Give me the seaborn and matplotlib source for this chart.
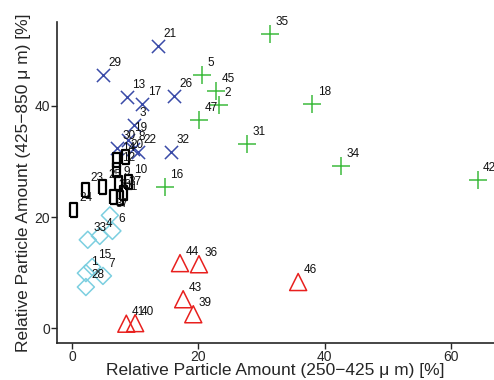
import matplotlib
matplotlib.use("Agg")
import matplotlib.pyplot as plt
import pandas as pd
import seaborn as sns

# point ids, x (250-425 um), y (425-850 um)
blue_ids = [21, 29, 13, 17, 26, 3, 19, 30, 22, 32, 8]
blue_x = [13.6, 4.9, 8.7, 11.1, 16.1, 9.8, 8.9, 7.2, 10.4, 15.7, 9.7]
blue_y = [50.8, 45.6, 41.6, 40.4, 41.8, 36.6, 33.9, 32.5, 31.7, 31.7, 32.3]

green_ids = [35, 5, 45, 2, 47, 18, 31, 34, 42, 16]
green_x = [31.3, 20.6, 22.8, 23.3, 20.1, 38.0, 27.7, 42.6, 64.2, 14.7]
green_y = [53.0, 45.6, 42.7, 40.2, 37.5, 40.4, 33.2, 29.2, 26.7, 25.4]

black_ids = [24, 23, 25, 14, 12, 20, 10, 27, 9, 11, 38]
black_x = [0.3, 2.1, 4.9, 7.0, 7.0, 8.4, 8.9, 8.1, 7.3, 7.6, 6.5]
black_y = [21.3, 24.9, 25.4, 30.3, 28.5, 30.8, 26.3, 24.3, 26.1, 23.4, 23.6]

cyan_ids = [37, 6, 33, 4, 15, 1, 7, 28]
cyan_x = [6.0, 6.4, 2.5, 4.4, 3.2, 2.2, 4.9, 2.2]
cyan_y = [20.3, 17.5, 15.9, 16.6, 11.0, 9.9, 9.4, 7.4]

red_ids = [44, 36, 46, 43, 39, 41, 40]
red_x = [17.1, 20.1, 35.8, 17.6, 19.2, 8.6, 10.0]
red_y = [11.7, 11.5, 8.3, 5.2, 2.5, 0.8, 0.9]

groups = [
    ("blue", blue_ids, blue_x, blue_y),
    ("green", green_ids, green_x, green_y),
    ("black", black_ids, black_x, black_y),
    ("cyan", cyan_ids, cyan_x, cyan_y),
    ("red", red_ids, red_x, red_y),
]

rect = [(-0.5, -1), (0.5, -1), (0.5, 1), (-0.5, 1), (-0.5, -1)]
styles = {
    "blue": dict(marker="x", s=90, color="#3A4BA8", lw=1.1),
    "green": dict(marker="+", s=170, color="#3DBB3D", lw=1.1),
    "black": dict(marker=rect, s=100, color="black", lw=1.6),
    "cyan": dict(marker="D", s=75, color="#7CCFE0", lw=1.1),
    "red": dict(marker="^", s=150, color="#E8201E", lw=1.1),
}

sns.set_style("ticks")
plt.rcParams["font.family"] = ["Liberation Sans", "DejaVu Sans"]

fig = plt.figure(figsize=(4.94, 3.80), dpi=100)
ax = fig.add_axes([0.115, 0.097, 0.885, 0.845])

for name, ids, xs, ys in groups:
    st = styles[name]
    df = pd.DataFrame({"x": xs, "y": ys})
    if st["marker"] in ("x", "+"):
        sns.scatterplot(data=df, x="x", y="y", ax=ax, marker=st["marker"],
                        s=st["s"], color=st["color"], linewidth=st["lw"])
    else:
        sns.scatterplot(data=df, x="x", y="y", ax=ax, marker=st["marker"],
                        s=st["s"], facecolor="none", edgecolor=st["color"],
                        linewidth=st["lw"])
    for i, xx, yy in zip(ids, xs, ys):
        ax.annotate(str(i), (xx, yy), xytext=(4, 4), textcoords="offset points",
                    fontsize=8.5, ha="left", va="bottom", color="#111111")

ax.set_xlim(-2.4, 66.8)
ax.set_ylim(-2.7, 55.1)
ax.set_xticks([0, 20, 40, 60])
ax.set_yticks([0, 20, 40])
ax.tick_params(labelsize=10, length=4, width=1, pad=1)
for side in ["top", "right"]:
    ax.spines[side].set_visible(False)
for side in ["left", "bottom"]:
    ax.spines[side].set_linewidth(1.2)
ax.set_xlabel("Relative Particle Amount (250\u2212425 \u03bc m) [%]", fontsize=12.5, labelpad=-1)
ax.set_ylabel("Relative Particle Amount (425\u2212850 \u03bc m) [%]", fontsize=12.5, labelpad=2)

fig.savefig("out.png", dpi=100)
